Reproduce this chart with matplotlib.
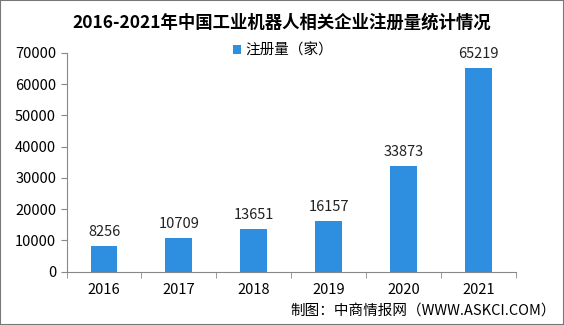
import matplotlib.pyplot as plt
import numpy as np

plt.rcParams['font.family'] = ['Noto Sans CJK SC', 'DejaVu Sans']

years = ['2016', '2017', '2018', '2019', '2020', '2021']
counts = [8256, 10709, 13651, 16157, 33873, 65219]

fig = plt.figure(figsize=(5.64, 3.25), dpi=100)
ax = fig.add_axes([0.118, 0.164, 0.797, 0.673])

x = np.arange(len(years))
ax.bar(x, counts, width=0.36, color='#2E8FE0', label='注册量（家）')
for xi, v in zip(x, counts):
    ax.text(xi, v + 2300, str(v), ha='center', va='bottom', fontsize=10.5, color='#222222')

ax.set_xlim(-0.5, len(years) - 0.5)
ax.set_ylim(0, 70000)
ax.set_yticks(range(0, 70001, 10000))
ax.set_xticks(x)
ax.set_xticklabels(years)
ax.set_xticks(np.arange(-0.5, len(years), 1), minor=True)
ax.tick_params(axis='x', which='major', length=0, labelsize=10.5, pad=8)
ax.tick_params(axis='x', which='minor', length=4, color='#888888')
ax.tick_params(axis='y', length=4, color='#888888', labelsize=10.5)

for s in ['top', 'right']:
    ax.spines[s].set_visible(False)
for s in ['left', 'bottom']:
    ax.spines[s].set_color('#888888')

ax.legend(loc='center left', bbox_to_anchor=(0.34, 1.01), frameon=False, fontsize=10.5,
          handlelength=0.6, handleheight=0.6, handletextpad=0.3)

fig.text(0.5, 0.93, '2016-2021年中国工业机器人相关企业注册量统计情况', ha='center', va='center',
         fontsize=12.5, fontweight='bold')
fig.text(0.985, 0.045, '制图：中商情报网（WWW.ASKCI.COM）', ha='right', va='center', fontsize=10.5)

fig.patches.append(plt.Rectangle((0, 0), 1, 1, transform=fig.transFigure, fill=False,
                                 edgecolor='#777777', linewidth=1.5))

fig.savefig('out.png', dpi=100)
